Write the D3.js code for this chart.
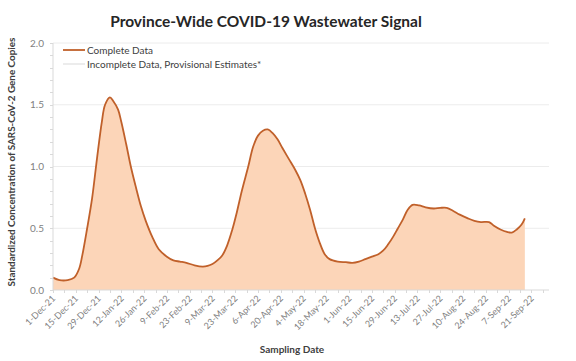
<!DOCTYPE html>
<html><head><meta charset="utf-8">
<script src="https://cdn.jsdelivr.net/npm/d3@7"></script>
<style>body{margin:0;background:#fff}svg{display:block}</style>
</head><body>
<svg id="c" width="576" height="361"></svg>
<script>
const sampleDates = ["2021-12-01","2021-12-05","2021-12-10","2021-12-14","2021-12-17","2021-12-19","2021-12-22","2021-12-25","2021-12-28","2021-12-31",
"2022-01-02","2022-01-05","2022-01-07","2022-01-10","2022-01-12","2022-01-15","2022-01-18","2022-01-21","2022-01-24","2022-01-27","2022-01-31",
"2022-02-04","2022-02-09","2022-02-13","2022-02-17","2022-02-21","2022-02-26","2022-03-03","2022-03-06","2022-03-09","2022-03-12","2022-03-15",
"2022-03-18","2022-03-21","2022-03-24","2022-03-27","2022-03-31","2022-04-03","2022-04-06","2022-04-09","2022-04-12","2022-04-15","2022-04-18",
"2022-04-21","2022-04-25","2022-04-29","2022-05-02","2022-05-05","2022-05-08","2022-05-11","2022-05-14","2022-05-17","2022-05-20","2022-05-25",
"2022-05-30","2022-06-03","2022-06-07","2022-06-11","2022-06-15","2022-06-19","2022-06-22","2022-06-25","2022-06-28","2022-07-01","2022-07-04",
"2022-07-07","2022-07-10","2022-07-14","2022-07-18","2022-07-23","2022-07-27","2022-07-31","2022-08-04","2022-08-08","2022-08-13","2022-08-17",
"2022-08-21","2022-08-26","2022-08-29","2022-09-02","2022-09-06","2022-09-09","2022-09-12","2022-09-15","2022-09-17"];
const completeValues = [0.10,0.08,0.08,0.10,0.17,0.28,0.50,0.74,1.06,1.36,
1.50,1.56,1.53,1.46,1.36,1.18,0.99,0.83,0.68,0.56,0.43,
0.33,0.27,0.24,0.23,0.22,0.20,0.19,0.195,0.21,0.24,0.28,
0.36,0.48,0.63,0.80,1.00,1.16,1.25,1.29,1.30,1.27,1.22,
1.15,1.06,0.97,0.89,0.78,0.65,0.50,0.38,0.29,0.25,0.23,
0.225,0.22,0.23,0.25,0.27,0.29,0.32,0.37,0.43,0.50,0.57,
0.65,0.69,0.685,0.67,0.66,0.665,0.665,0.64,0.61,0.58,0.56,
0.55,0.55,0.52,0.49,0.47,0.465,0.49,0.53,0.58];
const tickLabels = ["1-Dec-21","15-Dec-21","29-Dec-21","12-Jan-22","26-Jan-22","9-Feb-22","23-Feb-22","9-Mar-22","23-Mar-22","6-Apr-22","20-Apr-22",
"4-May-22","18-May-22","1-Jun-22","15-Jun-22","29-Jun-22","13-Jul-22","27-Jul-22","10-Aug-22","24-Aug-22","7-Sep-22","21-Sep-22"];
const yTicks = [0.0,0.5,1.0,1.5,2.0];
const legendLabels = ["Complete Data","Incomplete Data, Provisional Estimates*"];

const parse = d3.timeParse("%Y-%m-%d");
const tparse = d3.timeParse("%-d-%b-%y");
const data = sampleDates.map((d,i)=>({date:parse(d), v:completeValues[i]}));
const svg = d3.select("#c");
const font = "Lato, 'Open Sans', sans-serif";
const L=53, R=546, T=43, B=290;
const x = d3.scaleTime().domain([parse("2021-12-01"), parse("2022-09-30")]).range([L,R]);
const y = d3.scaleLinear().domain([0,2]).range([B,T]);
const curve = d3.curveCatmullRom.alpha(0.5);

// gridlines
svg.append("g").selectAll("line").data(yTicks.filter(v=>v>0)).join("line")
  .attr("x1",L).attr("x2",549).attr("y1",d=>y(d)).attr("y2",d=>y(d))
  .attr("stroke","#ececec").attr("stroke-width",1);

// area + line
svg.append("path").datum(data)
  .attr("d", d3.area().x(d=>x(d.date)).y0(B).y1(d=>y(d.v)).curve(curve))
  .attr("fill","#fcd5b8");
svg.append("path").datum(data)
  .attr("d", d3.line().x(d=>x(d.date)).y(d=>y(d.v)).curve(curve))
  .attr("fill","none").attr("stroke","#c0602a").attr("stroke-width",1.8);

// y axis
const ya = svg.append("g").attr("transform",`translate(${L},0)`);
ya.append("line").attr("y1",T).attr("y2",B).attr("stroke","#d9d9d9");
ya.selectAll(".mt").data(d3.range(0,2.01,0.1)).join("line")
  .attr("x1",-3).attr("x2",0).attr("y1",d=>Math.round(y(d))+0.5).attr("y2",d=>Math.round(y(d))+0.5).attr("stroke","#d9d9d9");
ya.selectAll("text").data(yTicks).join("text")
  .attr("x",-9).attr("y",d=>y(d)+3.5).attr("text-anchor","end")
  .attr("font-family",font).attr("font-size",10).attr("fill","#7f7f7f")
  .text(d=>d.toFixed(1));

// x axis
const xa = svg.append("g").attr("transform",`translate(0,${B})`);
xa.append("line").attr("x1",L).attr("x2",549).attr("stroke","#d9d9d9");
xa.selectAll(".mt").data(d3.timeDay.range(parse("2021-12-01"), parse("2022-10-01"), 7)).join("line")
  .attr("x1",d=>Math.round(x(d))+0.5).attr("x2",d=>Math.round(x(d))+0.5).attr("y1",0).attr("y2",3).attr("stroke","#d9d9d9");
xa.selectAll("text").data(tickLabels).join("text")
  .attr("transform",d=>`translate(${x(tparse(d))+3},${9}) rotate(-45)`)
  .attr("text-anchor","end")
  .attr("font-family",font).attr("font-size",9).attr("fill","#7f7f7f")
  .text(d=>d);

// titles
svg.append("text").attr("x",266).attr("y",27).attr("text-anchor","middle")
  .attr("font-family",font).attr("font-weight","bold").attr("font-size",15.5).attr("fill","#262626")
  .text("Province-Wide COVID-19 Wastewater Signal");
svg.append("text").attr("x",292).attr("y",353).attr("text-anchor","middle")
  .attr("font-family",font).attr("font-weight","bold").attr("font-size",10).attr("fill","#404040")
  .text("Sampling Date");
svg.append("text").attr("transform","translate(15,162) rotate(-90)").attr("text-anchor","middle")
  .attr("font-family",font).attr("font-weight","bold").attr("font-size",9.9).attr("fill","#404040")
  .text("Standardized Concentration of SARS-CoV-2 Gene Copies");

// legend
const lg = svg.append("g");
const lcol = ["#c0602a","#d9d9d9"];
legendLabels.forEach((t,i)=>{
  const yy = 50 + i*14;
  lg.append("line").attr("x1",63).attr("x2",85).attr("y1",yy).attr("y2",yy).attr("stroke",lcol[i]).attr("stroke-width",i?1:1.8);
  lg.append("text").attr("x",87).attr("y",yy+3.5).attr("font-family",font).attr("font-size",10).attr("fill","#404040").text(t);
});
</script>
</body></html>
